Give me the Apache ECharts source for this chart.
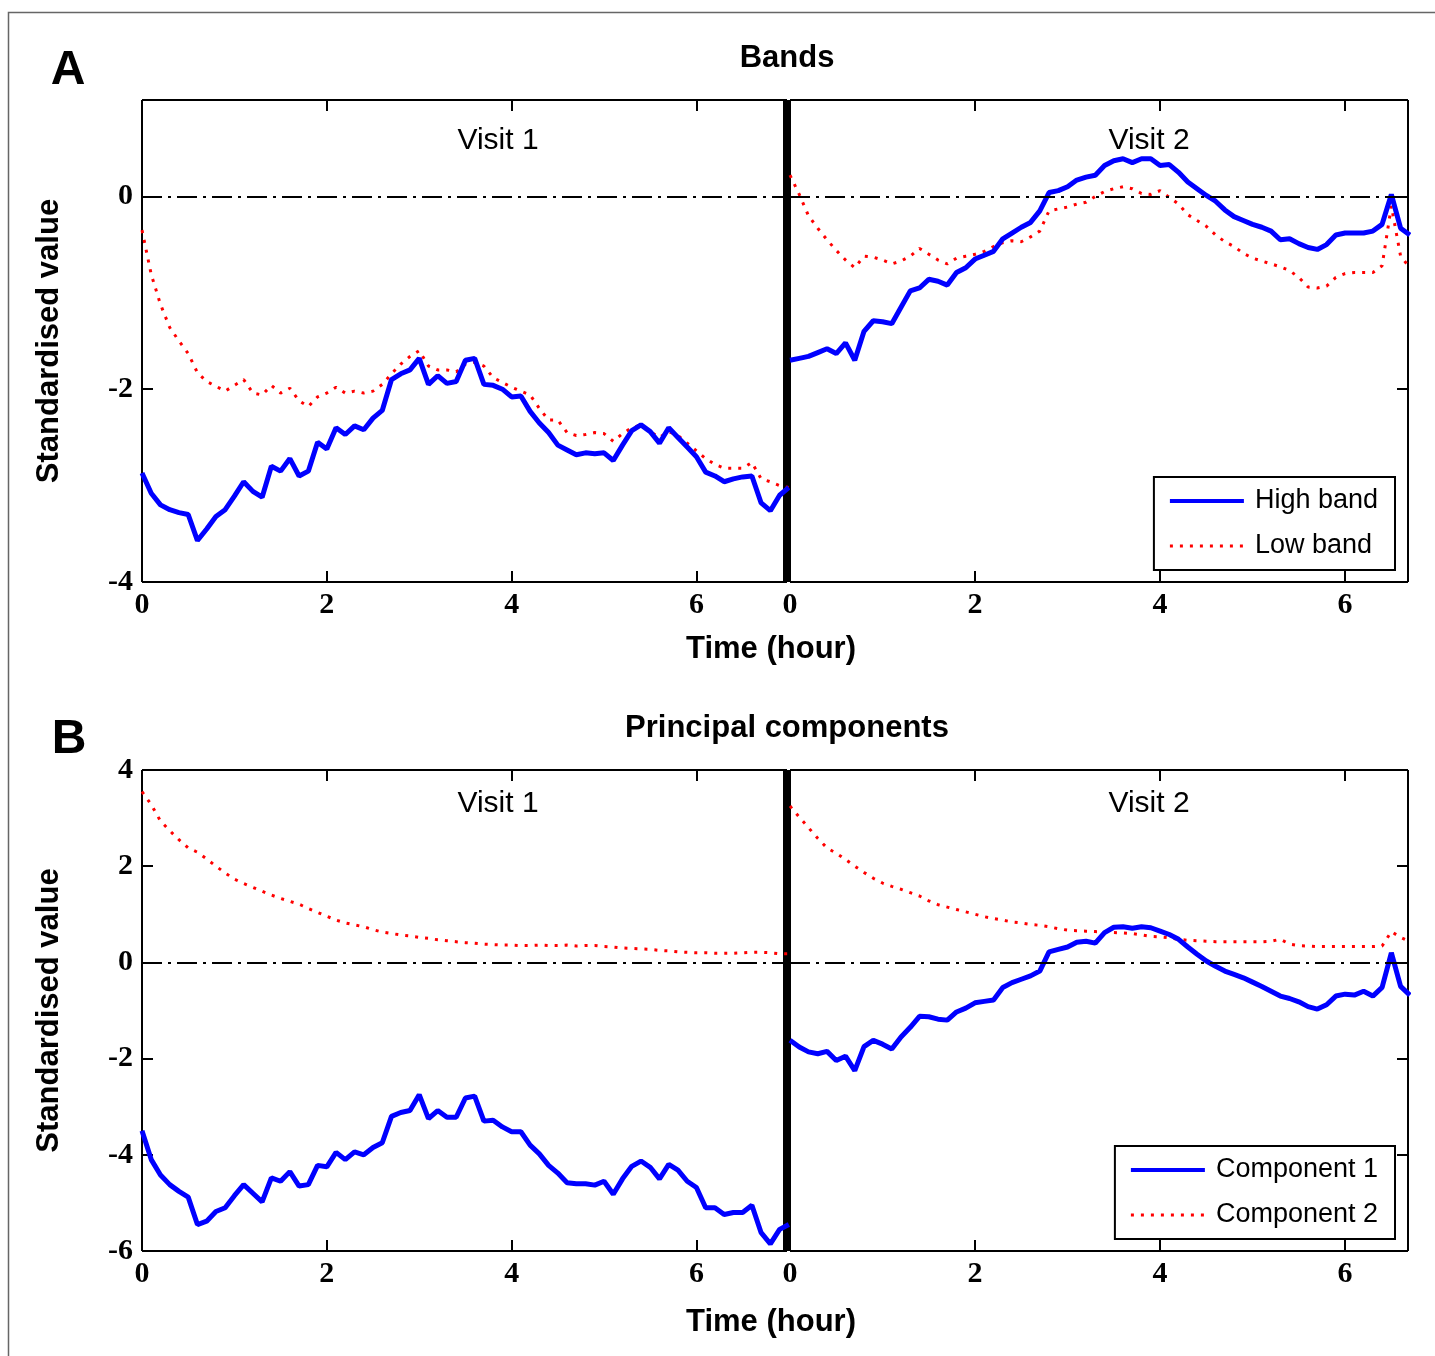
<!DOCTYPE html>
<html>
<head>
<meta charset="utf-8">
<script src="https://cdn.jsdelivr.net/npm/echarts@6/dist/echarts.min.js"></script>
<style>
  html, body { margin: 0; padding: 0; background: #fff; }
  #chart { width: 1435px; height: 1356px; }
</style>
</head>
<body>
<div id="chart"></div>
<script>
// Sampling interval of every recorded trace, in hours
const STEP = 0.1;

const visitLabels = ['Visit 1', 'Visit 2'];

// Panel A: band power, visit 1 (0 - 7 h)
const bandsHighVisit1 = [
  -2.87, -3.08, -3.20, -3.25, -3.28, -3.30, -3.57, -3.45, -3.32, -3.25,
  -3.11, -2.96, -3.06, -3.12, -2.80, -2.85, -2.72, -2.90, -2.85, -2.55,
  -2.62, -2.40, -2.47, -2.38, -2.42, -2.30, -2.22, -1.90, -1.84, -1.80,
  -1.68, -1.95, -1.86, -1.94, -1.92, -1.70, -1.68, -1.95, -1.96, -2.00,
  -2.08, -2.07, -2.23, -2.35, -2.45, -2.58, -2.63, -2.68, -2.66, -2.67,
  -2.66, -2.74, -2.58, -2.43, -2.37, -2.44, -2.56, -2.40, -2.50, -2.60,
  -2.70, -2.86, -2.90, -2.96, -2.93, -2.91, -2.90, -3.18, -3.26, -3.10, -3.02
];
const bandsLowVisit1 = [
  -0.35, -0.81, -1.12, -1.36, -1.50, -1.63, -1.83, -1.92, -1.97, -2.02,
  -1.96, -1.90, -2.04, -2.06, -1.96, -2.04, -1.99, -2.12, -2.18, -2.08,
  -2.04, -1.98, -2.04, -2.02, -2.04, -2.02, -1.95, -1.84, -1.74, -1.66,
  -1.60, -1.76, -1.80, -1.80, -1.82, -1.74, -1.72, -1.76, -1.88, -1.93,
  -1.98, -2.02, -2.06, -2.20, -2.32, -2.32, -2.45, -2.48, -2.47, -2.45,
  -2.46, -2.54, -2.46, -2.40, -2.37, -2.44, -2.50, -2.44, -2.48, -2.56,
  -2.64, -2.72, -2.78, -2.82, -2.82, -2.82, -2.76, -2.93, -2.96, -3.00, -3.02
];

// Panel A: band power, visit 2 (0 - 6.7 h)
const bandsHighVisit2 = [
  -1.70, -1.68, -1.66, -1.62, -1.58, -1.63, -1.52, -1.70, -1.40, -1.29,
  -1.30, -1.32, -1.15, -0.98, -0.95, -0.86, -0.88, -0.92, -0.79, -0.74,
  -0.65, -0.61, -0.57, -0.44, -0.38, -0.32, -0.27, -0.15, 0.04, 0.06,
  0.10, 0.17, 0.20, 0.22, 0.32, 0.37, 0.39, 0.35, 0.39, 0.39,
  0.32, 0.33, 0.25, 0.15, 0.08, 0.01, -0.05, -0.14, -0.21, -0.25,
  -0.29, -0.32, -0.36, -0.45, -0.44, -0.49, -0.53, -0.55, -0.50, -0.40,
  -0.38, -0.38, -0.38, -0.36, -0.29, 0.02, -0.33, -0.40
];
const bandsLowVisit2 = [
  0.22, 0.02, -0.20, -0.33, -0.45, -0.56, -0.66, -0.74, -0.62, -0.63,
  -0.66, -0.70, -0.67, -0.62, -0.54, -0.60, -0.66, -0.70, -0.64, -0.62,
  -0.60, -0.57, -0.52, -0.48, -0.46, -0.47, -0.42, -0.36, -0.15, -0.13,
  -0.11, -0.08, -0.06, 0.00, 0.05, 0.08, 0.10, 0.08, 0.03, 0.02,
  0.06, -0.01, -0.08, -0.19, -0.25, -0.31, -0.40, -0.47, -0.52, -0.59,
  -0.64, -0.67, -0.70, -0.73, -0.77, -0.84, -0.94, -0.95, -0.93, -0.84,
  -0.80, -0.79, -0.79, -0.79, -0.72, -0.10, -0.62, -0.74
];

// Panel B: principal components, visit 1
const pcaComp1Visit1 = [
  -3.50, -4.10, -4.42, -4.62, -4.76, -4.88, -5.45, -5.38, -5.18, -5.10,
  -4.85, -4.62, -4.80, -4.98, -4.48, -4.55, -4.35, -4.65, -4.62, -4.22,
  -4.25, -3.95, -4.10, -3.94, -4.00, -3.85, -3.75, -3.20, -3.12, -3.08,
  -2.75, -3.25, -3.08, -3.22, -3.22, -2.82, -2.78, -3.30, -3.28, -3.42,
  -3.52, -3.52, -3.80, -3.98, -4.22, -4.38, -4.58, -4.60, -4.60, -4.63,
  -4.55, -4.82, -4.50, -4.24, -4.13, -4.26, -4.50, -4.20, -4.32, -4.55,
  -4.68, -5.10, -5.10, -5.24, -5.20, -5.20, -5.05, -5.62, -5.85, -5.55, -5.45
];
const pcaComp2Visit1 = [
  3.55, 3.28, 2.94, 2.74, 2.55, 2.38, 2.29, 2.15, 2.00, 1.86,
  1.73, 1.64, 1.56, 1.48, 1.40, 1.33, 1.27, 1.21, 1.12, 1.04,
  0.96, 0.88, 0.82, 0.78, 0.74, 0.68, 0.63, 0.60, 0.57, 0.55,
  0.52, 0.50, 0.47, 0.45, 0.43, 0.41, 0.40, 0.38, 0.37, 0.36,
  0.36, 0.35, 0.35, 0.36, 0.35, 0.35, 0.36, 0.34, 0.35, 0.35,
  0.33, 0.32, 0.30, 0.29, 0.28, 0.27, 0.25, 0.24, 0.22, 0.21,
  0.20, 0.20, 0.19, 0.19, 0.19, 0.20, 0.21, 0.21, 0.20, 0.18, 0.18
];

// Panel B: principal components, visit 2
const pcaComp1Visit2 = [
  -1.62, -1.76, -1.86, -1.90, -1.85, -2.04, -1.95, -2.25, -1.75, -1.62,
  -1.70, -1.80, -1.55, -1.35, -1.12, -1.13, -1.18, -1.20, -1.03, -0.95,
  -0.84, -0.81, -0.78, -0.52, -0.42, -0.35, -0.28, -0.18, 0.22, 0.27,
  0.32, 0.42, 0.44, 0.40, 0.62, 0.73, 0.74, 0.71, 0.74, 0.72,
  0.65, 0.58, 0.48, 0.32, 0.17, 0.03, -0.08, -0.18, -0.25, -0.32,
  -0.41, -0.50, -0.60, -0.70, -0.75, -0.82, -0.92, -0.97, -0.88, -0.70,
  -0.66, -0.68, -0.60, -0.70, -0.52, 0.20, -0.50, -0.68
];
const pcaComp2Visit2 = [
  3.25, 3.02, 2.80, 2.58, 2.38, 2.27, 2.14, 2.00, 1.87, 1.75,
  1.65, 1.58, 1.52, 1.45, 1.38, 1.28, 1.20, 1.15, 1.10, 1.05,
  1.00, 0.95, 0.91, 0.88, 0.84, 0.82, 0.79, 0.77, 0.74, 0.70,
  0.67, 0.66, 0.65, 0.64, 0.63, 0.62, 0.61, 0.60, 0.57, 0.54,
  0.53, 0.51, 0.48, 0.46, 0.45, 0.44, 0.43, 0.43, 0.43, 0.43,
  0.43, 0.43, 0.44, 0.48, 0.38, 0.35, 0.34, 0.33, 0.33, 0.33,
  0.33, 0.33, 0.33, 0.33, 0.34, 0.64, 0.52, 0.43
];

// Length of each recording shown on its time axis (hours)
const visitSpan = [6.98, 6.68];

const BLUE = '#0000ff';
const RED = '#ff0000';
const SOLID_W = 5;
const DOTTED_W = 3;
const DOT_PATTERN = [3, 7];
const SANS = 'Liberation Sans, Arial, Helvetica, sans-serif';
const SERIF = 'Liberation Serif, Times New Roman, serif';

function toPairs(values) {
  return values.map((v, i) => [Math.round(i * STEP * 100) / 100, v]);
}

const frameLine = { show: true, onZero: false, lineStyle: { color: '#000', width: 2, cap: 'butt' } };
const innerTick = { show: true, inside: true, length: 11, lineStyle: { color: '#000', width: 2 } };
const evenOnly = v => (Math.abs(v % 2) < 1e-9 ? String(v === 0 ? 0 : v) : '');
const tickFont = { color: '#000', fontFamily: SERIF, fontWeight: 'bold', fontSize: 30 };

function timeAxes(gridIndex, max) {
  return [
    {
      type: 'value', gridIndex, position: 'bottom', min: 0, max, interval: 2,
      axisLine: frameLine, axisTick: innerTick, splitLine: { show: false },
      axisLabel: Object.assign({ margin: 8, formatter: evenOnly }, tickFont)
    },
    {
      type: 'value', gridIndex, position: 'top', min: 0, max, interval: 2,
      axisLine: frameLine, axisTick: innerTick, splitLine: { show: false },
      axisLabel: { show: false }
    }
  ];
}

function valueAxes(gridV1, gridV2, min, max) {
  return [
    {
      type: 'value', gridIndex: gridV1, position: 'left', min, max, interval: 2,
      axisLine: frameLine, axisTick: innerTick, splitLine: { show: false },
      axisLabel: Object.assign({ margin: 9, formatter: evenOnly }, tickFont),
      name: 'Standardised value', nameLocation: 'middle', nameGap: 77,
      nameTextStyle: { color: '#000', fontFamily: SANS, fontWeight: 'bold', fontSize: 31 }
    },
    {
      // heavy divider between the two visits
      type: 'value', gridIndex: gridV1, position: 'right', min, max, interval: 2,
      axisLine: { show: true, onZero: false, lineStyle: { color: '#000', width: 8, cap: 'butt' } },
      axisTick: { show: false }, axisLabel: { show: false }, splitLine: { show: false }
    },
    {
      type: 'value', gridIndex: gridV2, position: 'right', min, max, interval: 2,
      axisLine: frameLine, axisTick: innerTick, splitLine: { show: false },
      axisLabel: { show: false }
    }
  ];
}

const zeroLine = {
  silent: true, symbol: 'none', label: { show: false }, animation: false,
  lineStyle: { color: '#000', width: 2, type: [20, 6, 3, 6] },
  data: [{ yAxis: 0 }]
};

function trace(name, values, xAxisIndex, yAxisIndex, dotted, withZero) {
  const s = {
    type: 'line', name, xAxisIndex, yAxisIndex,
    data: toPairs(values),
    symbol: 'none', showSymbol: false, animation: false,
    itemStyle: { color: dotted ? RED : BLUE },
    lineStyle: dotted
      ? { color: RED, width: DOTTED_W, type: DOT_PATTERN }
      : { color: BLUE, width: SOLID_W, type: 'solid' },
    z: dotted ? 3 : 4
  };
  if (withZero) s.markLine = zeroLine;
  return s;
}

function legendBox(solidName, dottedName, top) {
  return {
    data: [
      { name: solidName, lineStyle: { width: 4 } },
      { name: dottedName, lineStyle: { width: DOTTED_W } }
    ],
    orient: 'vertical', right: 40, top,
    padding: [9, 17, 9, 14], itemGap: 15, itemWidth: 74, itemHeight: 14,
    borderColor: '#000', borderWidth: 2, borderRadius: 0, backgroundColor: '#fff',
    selectedMode: false,
    itemStyle: { opacity: 0 },
    textStyle: { color: '#000', fontFamily: SANS, fontSize: 27, lineHeight: 30, padding: [0, 0, 0, 6] }
  };
}

function label(text, x, y, size, weight) {
  return {
    type: 'text', x, y, silent: true,
    style: {
      text, fill: '#000', font: `${weight} ${size}px ${SANS}`,
      textAlign: 'center', textVerticalAlign: 'middle'
    }
  };
}

const grids = [
  { left: 142, top: 100, width: 645, height: 482 },
  { left: 790, top: 100, width: 618, height: 482 },
  { left: 142, top: 770, width: 645, height: 481 },
  { left: 790, top: 770, width: 618, height: 481 }
].map(g => Object.assign({ containLabel: false, outerBoundsMode: 'none' }, g));

const option = {
  backgroundColor: '#fff',
  animation: false,
  grid: grids,
  xAxis: [
    ...timeAxes(0, visitSpan[0]), // 0,1
    ...timeAxes(1, visitSpan[1]), // 2,3
    ...timeAxes(2, visitSpan[0]), // 4,5
    ...timeAxes(3, visitSpan[1])  // 6,7
  ],
  yAxis: [
    ...valueAxes(0, 1, -4, 1), // 0,1,2
    ...valueAxes(2, 3, -6, 4)  // 3,4,5
  ],
  legend: [
    legendBox('High band', 'Low band', 477),
    legendBox('Component 1', 'Component 2', 1146)
  ],
  series: [
    trace('Low band', bandsLowVisit1, 0, 0, true, true),
    trace('High band', bandsHighVisit1, 0, 0, false, false),
    trace('Low band', bandsLowVisit2, 2, 2, true, true),
    trace('High band', bandsHighVisit2, 2, 2, false, false),
    trace('Component 2', pcaComp2Visit1, 4, 3, true, true),
    trace('Component 1', pcaComp1Visit1, 4, 3, false, false),
    trace('Component 2', pcaComp2Visit2, 6, 5, true, true),
    trace('Component 1', pcaComp1Visit2, 6, 5, false, false)
  ],
  graphic: [
    {
      type: 'rect', silent: true,
      shape: { x: 8.5, y: 12.5, width: 1500, height: 1400 },
      style: { fill: 'none', stroke: '#666', lineWidth: 1.5 }
    },
    label('A', 68, 71, 48, 'bold'),
    label('B', 69, 740, 48, 'bold'),
    label('Bands', 787, 58, 31, 'bold'),
    label('Principal components', 787, 728, 31, 'bold'),
    label(visitLabels[0], 498, 141, 30, 'normal'),
    label(visitLabels[1], 1149, 141, 30, 'normal'),
    label(visitLabels[0], 498, 804, 30, 'normal'),
    label(visitLabels[1], 1149, 804, 30, 'normal'),
    label('Time (hour)', 771, 649, 31, 'bold'),
    label('Time (hour)', 771, 1322, 31, 'bold')
  ]
};

const chart = echarts.init(document.getElementById('chart'), null, { renderer: 'canvas' });
chart.setOption(option);
</script>
</body>
</html>
